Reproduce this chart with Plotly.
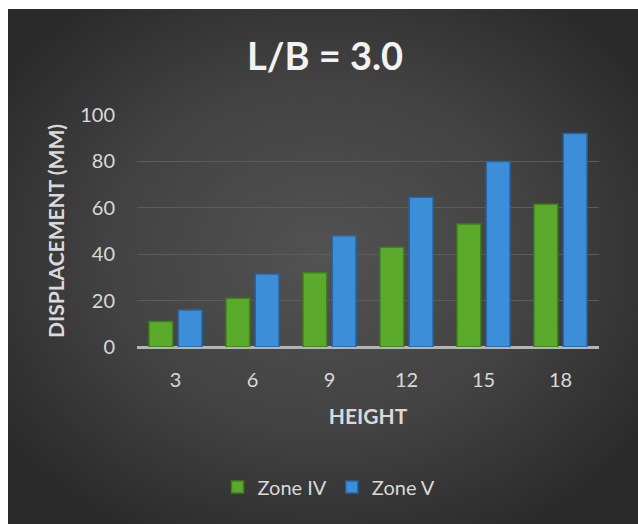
import base64
import plotly.graph_objects as go

# Building height (storeys) and lateral displacement for each seismic zone
heights = ["3", "6", "9", "12", "15", "18"]
zone_iv = [11, 21, 32, 43, 53, 61.5]
zone_v = [16, 31.5, 48, 64.5, 80, 92]

W, H = 638, 524
M_L, M_R, M_T, M_B = 137, 39, 115, 177
CARD_X0, CARD_Y0 = 8, 9  # dark card inset from the white page edge

plot_w = W - M_L - M_R
plot_h = H - M_T - M_B

# Dark radial-gradient card behind the chart
svg = (
    '<svg xmlns="http://www.w3.org/2000/svg" width="630" height="515" '
    'preserveAspectRatio="none" viewBox="0 0 630 515">'
    '<defs><radialGradient id="g" cx="0.5" cy="0.48" r="0.62">'
    '<stop offset="0" stop-color="#525252"/>'
    '<stop offset="0.55" stop-color="#424242"/>'
    '<stop offset="1" stop-color="#2a2a2a"/>'
    '</radialGradient></defs>'
    '<rect width="630" height="515" fill="url(#g)"/></svg>'
)
bg_src = "data:image/svg+xml;base64," + base64.b64encode(svg.encode()).decode()

fig = go.Figure()
fig.add_trace(go.Bar(
    x=heights, y=zone_iv, name="Zone IV",
    marker=dict(color="#5BAA2C", line=dict(color="#3F7F1C", width=1.5)),
))
fig.add_trace(go.Bar(
    x=heights, y=zone_v, name="Zone V",
    marker=dict(color="#3C8ED8", line=dict(color="#2565A6", width=1.5)),
))

font_family = "Lato, 'Open Sans', sans-serif"

fig.update_layout(
    width=W, height=H,
    margin=dict(l=M_L, r=M_R, t=M_T, b=M_B, pad=0),
    paper_bgcolor="white",
    plot_bgcolor="rgba(0,0,0,0)",
    font=dict(family=font_family, color="#d9d9d9"),
    barmode="group",
    bargap=0.24,
    bargroupgap=0.19,
    title=dict(
        text="<b>L/B = 3.0</b>",
        font=dict(size=38, color="#f2f2f2", family=font_family),
        x=325 / W, xref="container", xanchor="center",
        y=1 - 57 / H, yref="container", yanchor="middle",
    ),
    xaxis=dict(
        title=dict(text="<b>HEIGHT</b>", font=dict(size=21, color="#d9d9d9"), standoff=19),
        tickfont=dict(size=20, color="#d9d9d9"),
        ticks="outside", ticklen=15, tickcolor="rgba(0,0,0,0)",
        showline=False, showgrid=False, zeroline=False,
    ),
    yaxis=dict(
        title=dict(text="<b>DISPLACEMENT (MM)</b>", font=dict(size=21, color="#d9d9d9"), standoff=9),
        range=[0, 100], tickvals=[0, 20, 40, 60, 80, 100],
        tickfont=dict(size=20, color="#d9d9d9"),
        ticks="outside", ticklen=17, tickcolor="rgba(0,0,0,0)",
        showgrid=True, gridcolor="#5c5c5c", gridwidth=1,
        zeroline=True, zerolinecolor="#b5b5b5", zerolinewidth=2.5,
        showline=False,
    ),
    legend=dict(
        orientation="h",
        x=329 / W, xref="container", xanchor="center",
        y=1 - 487 / H, yref="container", yanchor="middle",
        font=dict(size=20, color="#d9d9d9"),
        bgcolor="rgba(0,0,0,0)",
        itemwidth=30,
    ),
    images=[dict(
        source=bg_src,
        xref="paper", yref="paper",
        x=(CARD_X0 - M_L) / plot_w,
        y=(H - M_B - CARD_Y0) / plot_h,
        sizex=(W - CARD_X0) / plot_w,
        sizey=(H - CARD_Y0) / plot_h,
        xanchor="left", yanchor="top",
        sizing="stretch", layer="below",
    )],
)

fig.write_html("out.html")
